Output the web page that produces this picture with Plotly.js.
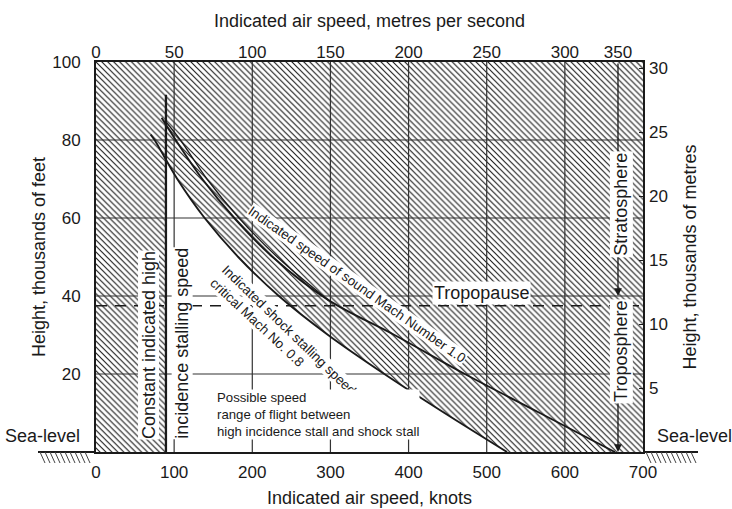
<!DOCTYPE html>
<html><head><meta charset="utf-8">
<script src="https://cdn.plot.ly/plotly-3.0.1.min.js"></script>
<style>html,body{margin:0;padding:0;background:#fff}#chart{width:732px;height:509px}</style>
</head><body><div id="chart"></div>
<script>
// ---- data ----
const knotTicks = [0,100,200,300,400,500,600,700];
const heightTicks = [20,40,60,80,100];
const metreTicks = [5,10,15,20,25,30];
const msTickPos = [0,100,200,300,400,500,600,668];
const msTickText = ['0','50','100','150','200','250','300','350'];

// Indicated speed of sound, Mach 1.0 (knots, thousands of feet)
const mach1Kt  = [84, 102, 136, 177, 226, 297, 382, 472, 568, 664];
const mach1Kft = [85.7, 80, 70, 60, 50, 39, 30, 20, 10, 0];
// second (stratosphere) trace of Mach 1.0
const mach1bKt  = [88, 108, 142, 183, 232, 297];
const mach1bKft = [85, 80, 70, 60, 50, 39];
// Indicated shock stalling speed, critical Mach 0.8
const shockKt  = [70, 75, 104, 139, 182, 234, 297, 369, 446, 526];
const shockKft = [81.4, 80, 70, 60, 50, 40, 30, 20, 10, 0];

const incidenceKt = 89.5;      // constant indicated high-incidence stalling speed
const incidenceTopKft = 91.6;
const tropopauseKft = 37.5;
const stratoArrowKft = 40;
const layerLineKt = 668;
const gridKt = [100,200,300,400,500,600];
const gridKft = [20,40,60,80];
const X_RANGE = [0,700], Y_RANGE = [0,100], M_RANGE = [0,30.48];

// ---- helpers ----
const INK = '#1a1a1a';
const hatch = {shape:'\\', size:4.2, solidity:0.27, fgcolor:'#1a1a1a', bgcolor:'#ffffff', fillmode:'replace'};
function rect(x0,x1,y0,y1){return {x:[x0,x1,x1,x0,x0], y:[y0,y0,y1,y1,y0]};}
function gridLines(vals, isX){
  const xs=[], ys=[];
  vals.forEach(v=>{ if(isX){xs.push(v,v,null); ys.push(Y_RANGE[0],Y_RANGE[1],null);} else {xs.push(X_RANGE[0],X_RANGE[1],null); ys.push(v,v,null);} });
  return {x:xs,y:ys};
}
const allR = rect(X_RANGE[0],X_RANGE[1],Y_RANGE[0],Y_RANGE[1]);
const leftR = rect(X_RANGE[0],incidenceKt,Y_RANGE[0],Y_RANGE[1]);
const gv = gridLines(gridKt,true), gh = gridLines(gridKft,false);
const curveLine = {color:INK, width:1.9, shape:'spline', smoothing:1};

const traces = [
  {x:allR.x, y:allR.y, mode:'lines', fill:'toself', fillpattern:hatch, fillcolor:'white', line:{width:0}, hoverinfo:'skip'},
  {x:shockKt, y:shockKft, mode:'lines', fill:'tozeroy', fillcolor:'white', line:{width:0, shape:'spline', smoothing:1}, hoverinfo:'skip'},
  {x:leftR.x, y:leftR.y, mode:'lines', fill:'toself', fillpattern:hatch, fillcolor:'white', line:{width:0}, hoverinfo:'skip'},
  {x:gv.x, y:gv.y, mode:'lines', line:{color:'#333333', width:1.2}, hoverinfo:'skip'},
  {x:gh.x, y:gh.y, mode:'lines', line:{color:'#333333', width:1.2}, hoverinfo:'skip'},
  {x:X_RANGE, y:[tropopauseKft,tropopauseKft], mode:'lines', line:{color:INK, width:1.4, dash:'11px,8px'}, hoverinfo:'skip'},
  {x:[incidenceKt,incidenceKt], y:[0,incidenceTopKft], mode:'lines', line:{color:INK, width:2.3}, hoverinfo:'skip'},
  Object.assign({x:shockKt, y:shockKft, mode:'lines', name:'Shock stall (M 0.8)'}, {line:curveLine}),
  Object.assign({x:mach1Kt, y:mach1Kft, mode:'lines', name:'Mach 1.0'}, {line:curveLine}),
  {x:mach1bKt, y:mach1bKft, mode:'lines', line:{color:INK, width:1.3, shape:'spline', smoothing:1}, name:'Mach 1.0 (b)'},
  {x:[X_RANGE[0]], y:[0], xaxis:'x2', yaxis:'y2', mode:'markers', marker:{opacity:0}, hoverinfo:'skip'}
];

// ground hatching (decoration) in paper coords
const PW = 547, PH = 390;
function groundPath(px0, px1){
  let p = '';
  for(let x=px0; x<=px1-5; x+=5){
    const a = x/PW, b=(x+5)/PW;
    p += `M${a},0 L${b},${-11/PH} `;
  }
  return p;
}
const shapes = [
  {type:'line', xref:'paper', yref:'paper', x0:-58/PW, x1:0, y0:0, y1:0, line:{color:INK, width:2}},
  {type:'path', xref:'paper', yref:'paper', path:groundPath(-56,-2), line:{color:'#444', width:1}},
  {type:'line', xref:'paper', yref:'paper', x0:1, x1:1+55/PW, y0:0, y1:0, line:{color:INK, width:2}},
  {type:'path', xref:'paper', yref:'paper', path:groundPath(PW+3,PW+55), line:{color:'#444', width:1}}
];

const F = 'Liberation Sans, Arial, Helvetica, sans-serif';
const ann = [
  {x:layerLineKt, y:stratoArrowKft, ax:layerLineKt, ay:Y_RANGE[1], xref:'x', yref:'y', axref:'x', ayref:'y', text:'', showarrow:true, arrowhead:2, arrowsize:1.2, arrowwidth:1.3, arrowcolor:INK},
  {x:layerLineKt, y:0, ax:layerLineKt, ay:tropopauseKft, xref:'x', yref:'y', axref:'x', ayref:'y', text:'', showarrow:true, arrowhead:2, arrowsize:1.2, arrowwidth:1.3, arrowcolor:INK},
  {x:672, y:63.4, text:'Stratosphere', textangle:-90, showarrow:false, bgcolor:'white', borderpad:1, font:{size:18}},
  {x:672, y:25.7, text:'Troposphere', textangle:-90, showarrow:false, bgcolor:'white', borderpad:1, font:{size:18}},
  {x:493.7, y:40.8, text:'Tropopause', showarrow:false, bgcolor:'white', borderpad:1, font:{size:18}},
  {x:66.9, y:27.5, text:'Constant indicated high', textangle:-90, showarrow:false, bgcolor:'white', borderpad:0, font:{size:18}},
  {x:110, y:28, text:'incidence stalling speed', textangle:-90, showarrow:false, bgcolor:'white', borderpad:0, font:{size:18}},
  {x:333.8, y:42.9, text:'Indicated speed of sound Mach Number 1.0', textangle:35, showarrow:false, bgcolor:'white', borderpad:0, font:{size:13.5}},
  {x:247.4, y:31.2, text:'Indicated shock stalling speed', textangle:44, showarrow:false, bgcolor:'white', borderpad:0, font:{size:13.5}},
  {x:206, y:33.2, text:'critical Mach No. 0.8', textangle:43, showarrow:false, bgcolor:'white', borderpad:0, font:{size:13.5}},
  {x:153.5, y:9.6, xanchor:'left', align:'left', text:'Possible speed<br>range of flight between<br>high incidence stall and shock stall', showarrow:false, bgcolor:'white', borderpad:0, font:{size:13.2}},
  {x:-14/PW, y:4, xref:'paper', yref:'y', xanchor:'right', text:'Sea-level', showarrow:false, font:{size:18}},
  {x:1+12/PW, y:4, xref:'paper', yref:'y', xanchor:'left', text:'Sea-level', showarrow:false, font:{size:18}}
];

const layout = {
  width:732, height:509,
  margin:{l:96, r:89, t:62, b:57},
  paper_bgcolor:'white', plot_bgcolor:'white',
  showlegend:false,
  font:{family:F, color:INK, size:17},
  xaxis:{range:X_RANGE, tickvals:knotTicks, showgrid:false, zeroline:false, showline:true, mirror:true, linecolor:INK, linewidth:2, ticks:'', ticklabelstandoff:4,
         title:{text:'Indicated air speed, knots', font:{size:18}, standoff:10}},
  xaxis2:{overlaying:'x', side:'top', anchor:'y', range:X_RANGE, tickvals:msTickPos, ticktext:msTickText, showgrid:false, zeroline:false, showline:false, ticks:'',
         title:{text:'Indicated air speed, metres per second', font:{size:18}, standoff:10}},
  yaxis:{range:Y_RANGE, tickvals:heightTicks, showgrid:false, zeroline:false, showline:true, mirror:true, linecolor:INK, linewidth:2, ticks:'', ticklabelstandoff:10,
         title:{text:'Height, thousands of feet', font:{size:18}, standoff:2}},
  yaxis2:{overlaying:'y', side:'right', anchor:'x', range:M_RANGE, tickvals:metreTicks, showgrid:false, zeroline:false, showline:false, ticks:'inside', ticklen:4, tickcolor:INK, ticklabelstandoff:5,
         title:{text:'Height, thousands of metres', font:{size:18}, standoff:16}},
  shapes:shapes,
  annotations:ann
};
Plotly.newPlot('chart', traces, layout, {staticPlot:true});
</script></body></html>
